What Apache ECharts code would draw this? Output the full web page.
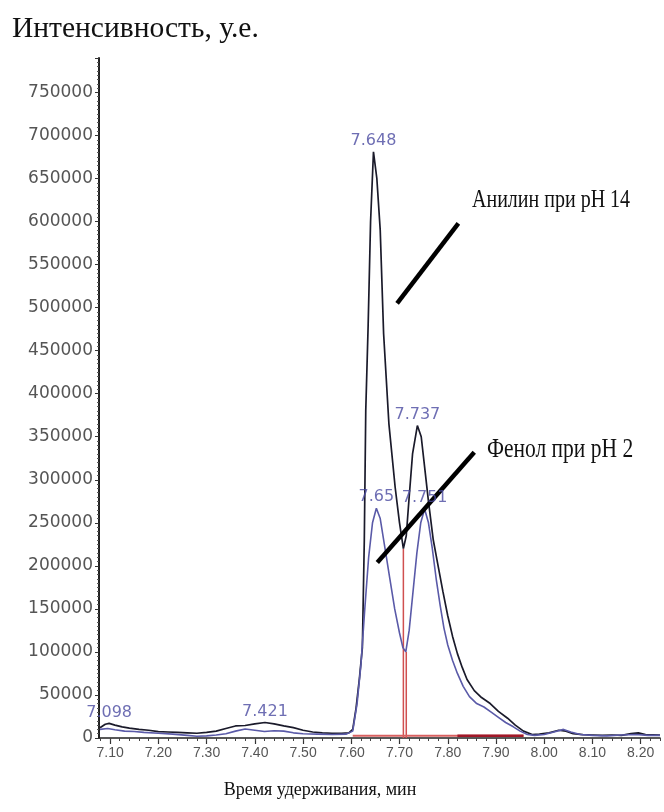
<!DOCTYPE html>
<html><head><meta charset="utf-8">
<script src="https://cdn.jsdelivr.net/npm/echarts@6/dist/echarts.min.js"></script>
<style>html,body{margin:0;padding:0;background:#fff}#c{width:664px;height:812px}</style>
</head><body><div id="c"></div>
<script>
// Aniline at pH 14 (black trace)
const anilineTime = [7.079,7.090,7.098,7.110,7.125,7.140,7.160,7.180,7.200,7.220,7.240,7.260,7.280,7.300,7.320,7.340,7.360,7.380,7.400,7.421,7.440,7.460,7.480,7.500,7.520,7.540,7.560,7.580,7.595,7.603,7.610,7.617,7.623,7.627,7.630,7.635,7.640,7.646,7.653,7.660,7.667,7.678,7.691,7.700,7.708,7.714,7.720,7.727,7.737,7.745,7.752,7.760,7.770,7.780,7.790,7.800,7.810,7.820,7.830,7.840,7.855,7.870,7.888,7.905,7.924,7.940,7.957,7.975,7.990,8.010,8.030,8.045,8.060,8.080,8.100,8.120,8.140,8.160,8.180,8.195,8.210,8.240];
const anilineIntensity = [12000,16000,17000,15000,13000,11500,10000,9000,7500,7000,6500,6000,5500,6500,8000,11000,14000,14500,16500,18000,16500,14000,12000,9000,7000,6000,5500,5500,6000,10000,35000,70000,105000,230000,380000,480000,600000,681000,650000,590000,470000,365000,291000,250000,220000,235000,280000,330000,363000,350000,315000,275000,230000,200000,170000,142000,118000,98000,82000,68000,55000,47000,40000,31000,23000,15000,8000,4000,4500,6000,9000,8000,5000,4000,3500,3000,3500,3000,5000,6000,4000,3500];
// Phenol at pH 2 (blue trace)
const phenolTime = [7.079,7.095,7.110,7.130,7.150,7.170,7.200,7.230,7.260,7.280,7.300,7.320,7.340,7.360,7.380,7.400,7.420,7.440,7.460,7.480,7.500,7.530,7.560,7.590,7.603,7.612,7.620,7.628,7.636,7.644,7.652,7.660,7.670,7.680,7.690,7.700,7.707,7.713,7.720,7.728,7.736,7.744,7.752,7.760,7.768,7.776,7.784,7.792,7.800,7.810,7.820,7.832,7.845,7.860,7.875,7.890,7.905,7.920,7.936,7.950,7.965,7.980,8.000,8.020,8.040,8.055,8.075,8.100,8.130,8.160,8.190,8.215,8.240];
const phenolIntensity = [10000,11000,9500,8000,7500,6500,5500,4500,3000,2000,2500,3500,5000,8000,10500,9000,7500,8500,8000,6000,5000,4500,4000,4500,8000,40000,85000,150000,210000,250000,267000,255000,220000,185000,150000,122000,105000,100000,125000,170000,215000,250000,266000,250000,220000,185000,155000,128000,108000,90000,75000,60000,48000,40000,36000,30000,24000,18000,13000,8000,4000,3000,4000,7000,10000,7000,4000,3000,2500,3500,4000,3000,3000];
// Peak annotations
const peakTimes   = [7.098, 7.421, 7.646, 7.737, 7.652, 7.752];
const peakHeights = [17000, 18000, 681000, 363000, 267000, 266000];
const peakLabels  = ['7.098','7.421','7.648','7.737','7.65','7.751'];
// Integration markers (red)
const cutTimes   = [7.708, 7.714];
const cutHeights = [220000, 100000];
const baselineLevel = 2500;
const baselineStart = 7.603, baselineEnd = 7.957, darkBaselineStart = 7.82;
// Axes
const xTickValues = [7.10,7.20,7.30,7.40,7.50,7.60,7.70,7.80,7.90,8.00,8.10,8.20];
const xMin = 7.077, xMax = 8.24;
const yMax = 790000, yStep = 50000;
// Callout pointers [from, to] in data coordinates
const anilinePointer = [[7.695, 505000], [7.822, 598000]];
const phenolPointer  = [[7.654, 204000], [7.855, 332000]];

const minorX = [];
for (let v = 7.08; v <= 8.2401; v += 0.02) minorX.push(+v.toFixed(2));

const zip = (a, b) => a.map((t, i) => [t, b[i]]);

const chart = echarts.init(document.getElementById('c'), null, {renderer: 'canvas'});
const labelFont = 'DejaVu Sans';
chart.setOption({
  animation: false,
  backgroundColor: '#fff',
  grid: {left: 99, right: 4, top: 58, bottom: 74, containLabel: false},
  xAxis: [{
    type: 'value', min: xMin, max: xMax, position: 'bottom',
    axisLine: {show: true, onZero: false, lineStyle: {color: '#222', width: 1.5}},
    axisTick: {show: true, customValues: xTickValues, length: 6, lineStyle: {color: '#333', width: 1.2}},
    axisLabel: {customValues: xTickValues, formatter: v => v.toFixed(2), color: '#555', fontFamily: 'Liberation Sans', fontSize: 14, margin: 8},
    splitLine: {show: false}
  }, {
    type: 'value', min: xMin, max: xMax, position: 'bottom',
    axisLine: {show: false},
    axisTick: {show: true, customValues: minorX, length: 3, lineStyle: {color: '#444', width: 1}},
    axisLabel: {show: false},
    splitLine: {show: false}
  }],
  yAxis: {
    type: 'value', min: 0, max: yMax, interval: yStep,
    axisLine: {show: true, lineStyle: {color: '#222', width: 2}},
    axisTick: {show: true, length: 4, lineStyle: {color: '#333'}},
    minorTick: {show: true, splitNumber: 10, length: 2, lineStyle: {color: '#555'}},
    axisLabel: {showMaxLabel: false, formatter: v => String(v), color: '#555', fontFamily: labelFont, fontSize: 17, margin: 6},
    splitLine: {show: false}
  },
  series: [
    {
      name: 'Анилин при pH 14', type: 'line', data: zip(anilineTime, anilineIntensity),
      symbol: 'none', lineStyle: {color: '#1a1a2a', width: 1.7}, z: 3,
      markLine: {
        silent: true, symbol: ['none', 'none'], label: {show: false},
        lineStyle: {color: '#000', width: 4.5, type: 'solid'},
        data: [
          [{coord: anilinePointer[0]}, {coord: anilinePointer[1]}],
          [{coord: phenolPointer[0]}, {coord: phenolPointer[1]}]
        ]
      }
    },
    {
      name: 'Фенол при pH 2', type: 'line', data: zip(phenolTime, phenolIntensity),
      symbol: 'none', lineStyle: {color: '#5a5aa8', width: 1.6}, z: 4
    },
    {
      type: 'line', data: [[baselineStart, baselineLevel], [baselineEnd, baselineLevel]],
      symbol: 'none', lineStyle: {color: '#d86060', width: 2}, z: 5
    },
    {
      type: 'line', data: [[darkBaselineStart, baselineLevel], [baselineEnd, baselineLevel]],
      symbol: 'none', lineStyle: {color: '#a01828', width: 2.5}, z: 5
    },
    {
      type: 'line', data: [[cutTimes[0], 0], [cutTimes[0], cutHeights[0]]],
      symbol: 'none', lineStyle: {color: '#d05050', width: 1.5}, z: 2
    },
    {
      type: 'line', data: [[cutTimes[1], 0], [cutTimes[1], cutHeights[1]]],
      symbol: 'none', lineStyle: {color: '#d05050', width: 1.5}, z: 2
    },
    {
      type: 'scatter', data: peakTimes.map((t, i) => [t, peakHeights[i], peakLabels[i]]),
      symbolSize: 0, z: 6,
      label: {show: true, position: 'top', distance: 3, formatter: p => p.value[2],
        color: '#4a4aa0', fontFamily: labelFont, fontSize: 16}
    }
  ],
  graphic: [
    {type: 'text', left: 12, top: 14, style: {text: 'Интенсивность, у.е.', font: '29.5px "Liberation Serif"', fill: '#111'}},
    {type: 'text', x: 320, y: 790, style: {text: 'Время удерживания, мин', font: '18px "Liberation Serif"', fill: '#111', textAlign: 'center', textVerticalAlign: 'middle'}},
    {type: 'text', x: 472, y: 200, scaleY: 1.25, style: {text: 'Анилин при pH 14', font: '20px "Liberation Serif"', fill: '#111', textAlign: 'left', textVerticalAlign: 'middle'}},
    {type: 'text', x: 487, y: 450, scaleY: 1.25, style: {text: 'Фенол при рН 2', font: '21.5px "Liberation Serif"', fill: '#111', textAlign: 'left', textVerticalAlign: 'middle'}}
  ]
});
</script></body></html>
